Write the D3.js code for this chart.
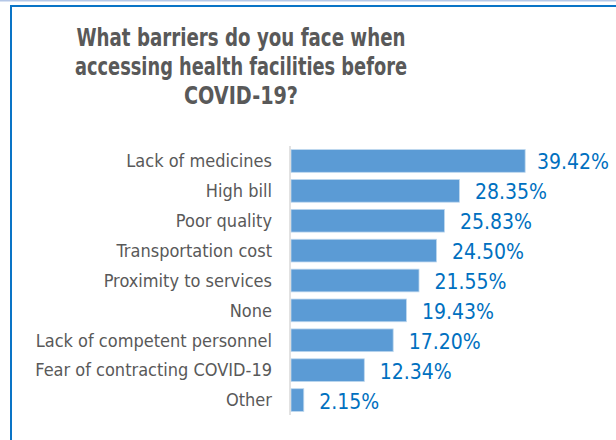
<!DOCTYPE html>
<html><head><meta charset="utf-8">
<script src="https://cdn.jsdelivr.net/npm/d3@7"></script>
<style>html,body{margin:0;padding:0;background:#fff;overflow:hidden}</style>
</head><body>
<svg id="c" width="616" height="440"></svg>
<script>
const categories = ["Lack of medicines","High bill","Poor quality","Transportation cost","Proximity to services","None","Lack of competent personnel","Fear of contracting COVID-19","Other"];
const values = [39.42,28.35,25.83,24.50,21.55,19.43,17.20,12.34,2.15];
const valueLabels = ["39.42%","28.35%","25.83%","24.50%","21.55%","19.43%","17.20%","12.34%","2.15%"];
const titleLines = ["What barriers do you face when","accessing health facilities before","COVID-19?"];
const titleWidths = [329,332,114];

const svg = d3.select("#c");
// frame
svg.append("rect").attr("x",0).attr("y",0).attr("width",616).attr("height",1.5).attr("fill","#b4c7e7");
svg.append("path").attr("d","M11,440 L11,6 L616,6").attr("fill","none").attr("stroke","#0a74c6").attr("stroke-width",2);

const font = "'DejaVu Sans Condensed','DejaVu Sans',sans-serif";
svg.append("g").selectAll("text").data(titleLines).join("text")
  .attr("x",241).attr("y",(d,i)=>46+i*29)
  .attr("text-anchor","middle")
  .attr("font-family",font).attr("font-weight","bold").attr("font-size",24)
  .attr("textLength",(d,i)=>titleWidths[i]).attr("lengthAdjust","spacingAndGlyphs")
  .attr("fill","#595959").text(d=>d);

const x = d3.scaleLinear().domain([0,45]).range([291,291+45*5.94]);
const y = d3.scaleBand().domain(categories).range([146,415]).paddingInner(0.24).paddingOuter(0.12);

svg.append("g").selectAll("rect").data(values).join("rect")
  .attr("x",x(0)).attr("y",(d,i)=>y(categories[i]))
  .attr("width",d=>x(d)-x(0)).attr("height",y.bandwidth())
  .attr("fill","#5b9bd5").attr("stroke","#bdd7ee").attr("stroke-width",0.8);

svg.append("line").attr("x1",290).attr("x2",290).attr("y1",146).attr("y2",415)
  .attr("stroke","#d9d9d9").attr("stroke-width",1.5);

const yAxis = d3.axisLeft(y).tickSize(0).tickPadding(18);
const ag = svg.append("g").attr("transform","translate(290,0)").call(yAxis);
ag.select(".domain").remove();
ag.selectAll("text").attr("font-family",font).attr("font-size",18).attr("fill","#595959").attr("dy","0.35em");

const lg = svg.append("g");
lg.selectAll("text").data(values).join("text")
  .attr("y",(d,i)=>y(categories[i])+y.bandwidth()/2+8.5)
  .attr("font-family",font).attr("font-size",21).attr("fill","#0070c0")
  .text((d,i)=>valueLabels[i])
  .each(function(d){
    const w=this.getComputedTextLength();
    const xs=Math.min(x(d)+15.5, 609-w);
    d3.select(this).attr("x",xs);
  });
</script>
</body></html>
